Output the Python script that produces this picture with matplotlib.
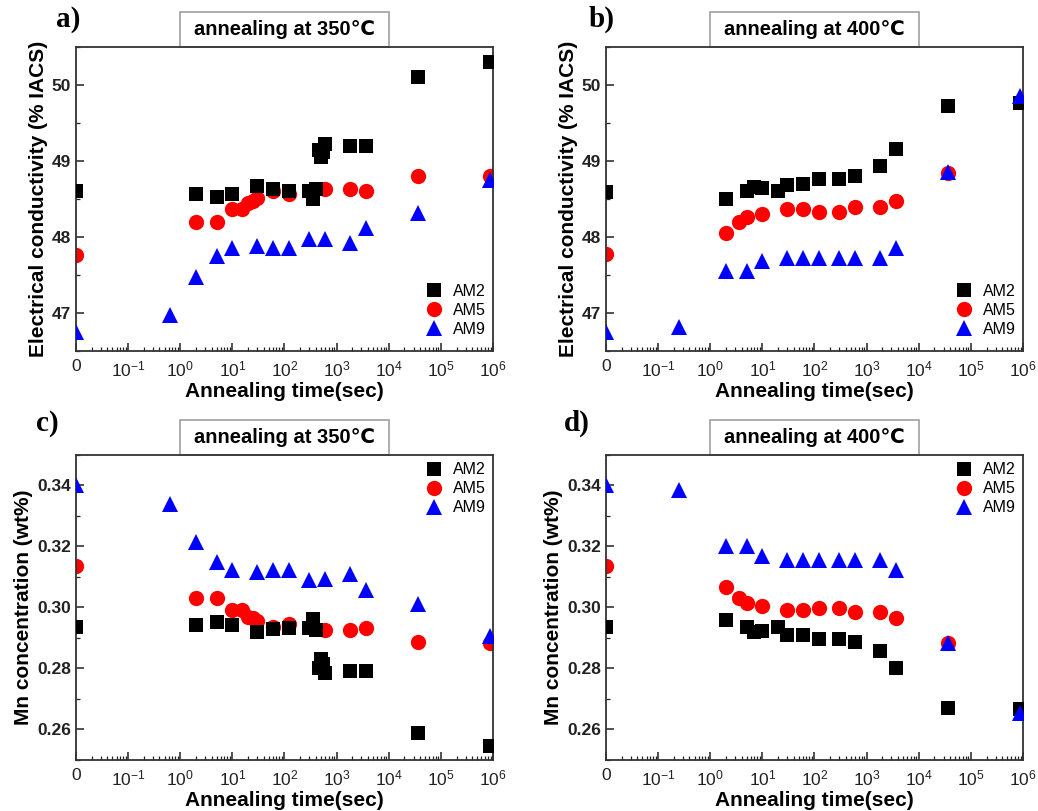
import numpy as np
import matplotlib
matplotlib.use('Agg')
import matplotlib.pyplot as plt
import matplotlib.ticker as mticker
from matplotlib.patches import Rectangle

plt.rcParams['font.family'] = ['Liberation Sans', 'DejaVu Sans']
plt.rcParams['mathtext.fontset'] = 'custom'
plt.rcParams['mathtext.rm'] = 'Liberation Sans'
plt.rcParams['mathtext.it'] = 'Liberation Sans:italic'
plt.rcParams['mathtext.bf'] = 'Liberation Sans:bold'

# annealing times (sec), t = 0 is the as-received state
t350_am2 = [0, 2, 5, 10, 30, 60, 120, 300, 360, 400, 450, 500, 550, 600, 1800, 3600, 36000, 864000]
t350_am5 = [0, 2, 5, 10, 15, 20, 25, 30, 60, 120, 600, 1800, 3600, 36000, 864000]
t350_am9 = [0, 0.65, 2, 5, 10, 30, 60, 120, 300, 600, 1800, 3600, 36000, 864000]

t400_am2 = [0, 2, 5, 7, 10, 20, 30, 60, 120, 300, 600, 1800, 3600, 36000, 864000]
t400_am5 = [0, 2, 3.5, 5, 10, 30, 60, 120, 300, 600, 1800, 3600, 36000]
t400_am9 = [0, 0.25, 2, 5, 10, 30, 60, 120, 300, 600, 1800, 3600, 36000, 864000]

# electrical conductivity (% IACS)
ec350_am2 = [48.60, 48.57, 48.53, 48.57, 48.67, 48.63, 48.60, 48.60, 48.50, 48.63,
             49.15, 49.05, 49.12, 49.22, 49.20, 49.20, 50.10, 50.30]
ec350_am5 = [47.76, 48.20, 48.20, 48.37, 48.37, 48.45, 48.47, 48.51, 48.60, 48.57,
             48.63, 48.63, 48.60, 48.80, 48.80]
ec350_am9 = [46.75, 46.97, 47.47, 47.75, 47.85, 47.88, 47.85, 47.85, 47.98, 47.97,
             47.92, 48.12, 48.32, 48.75]

ec400_am2 = [48.59, 48.50, 48.60, 48.66, 48.64, 48.60, 48.69, 48.70, 48.76, 48.76,
             48.80, 48.93, 49.16, 49.73, 49.76]
ec400_am5 = [47.77, 48.05, 48.20, 48.26, 48.30, 48.37, 48.37, 48.33, 48.33, 48.40,
             48.40, 48.47, 48.84]
ec400_am9 = [46.75, 46.81, 47.55, 47.55, 47.68, 47.72, 47.72, 47.72, 47.72, 47.72,
             47.72, 47.86, 48.86, 49.86]

# Mn concentration in solid solution (wt%)
mn350_am2 = [0.2935, 0.2943, 0.2951, 0.2943, 0.2920, 0.2928, 0.2934, 0.2934, 0.2962, 0.2927,
             0.2800, 0.2830, 0.2815, 0.2785, 0.2793, 0.2793, 0.2589, 0.2545]
mn350_am5 = [0.3137, 0.3031, 0.3031, 0.2992, 0.2992, 0.2970, 0.2965, 0.2957, 0.2935, 0.2946,
             0.2927, 0.2927, 0.2934, 0.2888, 0.2885]
mn350_am9 = [0.3400, 0.3340, 0.3214, 0.3148, 0.3122, 0.3115, 0.3124, 0.3124, 0.3091, 0.3093,
             0.3110, 0.3058, 0.3011, 0.2907]

mn400_am2 = [0.2935, 0.2959, 0.2935, 0.2921, 0.2924, 0.2935, 0.2910, 0.2910, 0.2896, 0.2896,
             0.2888, 0.2857, 0.2803, 0.2672, 0.2667]
mn400_am5 = [0.3137, 0.3067, 0.3031, 0.3016, 0.3006, 0.2992, 0.2992, 0.2997, 0.2999, 0.2984,
             0.2984, 0.2967, 0.2883]
mn400_am9 = [0.3400, 0.3384, 0.3200, 0.3200, 0.3168, 0.3157, 0.3157, 0.3157, 0.3157, 0.3157,
             0.3157, 0.3124, 0.2883, 0.2653]

xtick_labels = ['0', '$10^{-1}$', '$10^{0}$', '$10^{1}$', '$10^{2}$',
                '$10^{3}$', '$10^{4}$', '$10^{5}$', '$10^{6}$']

ZERO_POS = 1e-2  # t = 0 sits at the left end of the log axis


def to_axis(t):
    t = np.asarray(t, dtype=float)
    return np.where(t > 0, t, ZERO_POS)


def style_axes(ax, ylim, ymajor, yminor, yfmt):
    ax.set_xscale('log')
    ax.set_xlim(ZERO_POS, 1e6)
    ax.set_ylim(*ylim)
    ax.xaxis.set_major_locator(mticker.FixedLocator([10.0 ** k for k in range(-2, 7)]))
    ax.xaxis.set_minor_locator(mticker.LogLocator(base=10, subs=np.arange(2, 10), numticks=20))
    ax.xaxis.set_minor_formatter(mticker.NullFormatter())
    ax.set_xticklabels(xtick_labels)
    ax.yaxis.set_major_locator(mticker.MultipleLocator(ymajor))
    ax.yaxis.set_minor_locator(mticker.MultipleLocator(yminor))
    ax.yaxis.set_major_formatter(mticker.FormatStrFormatter(yfmt))
    ax.tick_params(which='both', direction='in', top=False, right=False, colors='#222222')
    ax.tick_params(which='major', length=6, width=1.1)
    ax.tick_params(which='minor', length=3, width=0.9)
    ax.tick_params(axis='x', labelsize=12.5, pad=6)
    ax.tick_params(axis='y', labelsize=12.5)
    for lab in ax.get_yticklabels():
        lab.set_fontweight('bold')
    for sp in ax.spines.values():
        sp.set_linewidth(1.3)
        sp.set_color('#333333')
    ax.set_xlabel('Annealing time(sec)', fontsize=15, fontweight='bold', labelpad=2)


def title_box(ax, text):
    ax.add_patch(Rectangle((0.25, 1.0), 0.5, 0.115, transform=ax.transAxes,
                           facecolor='white', edgecolor='#a0a0a0', lw=1.2, clip_on=False))
    ax.text(0.5, 1.058, text, transform=ax.transAxes, ha='center', va='center',
            fontsize=14.5, fontweight='bold')


def draw_series(ax, series, legend_loc, anchor):
    kw = dict(linestyle='none', markeredgewidth=0, clip_on=True)
    (t2, y2), (t5, y5), (t9, y9) = series
    ax.plot(to_axis(t2), y2, 's', color='black', ms=10, label='AM2', zorder=3, **kw)
    ax.plot(to_axis(t5), y5, 'o', color='#ff0000', ms=11, label='AM5', zorder=2, **kw)
    ax.plot(to_axis(t9), y9, '^', color='#0000ff', ms=12, label='AM9', zorder=4, **kw)
    ax.legend(loc=legend_loc, bbox_to_anchor=anchor, frameon=False, fontsize=11.5,
              handletextpad=0.6, labelspacing=0.25, borderaxespad=0.15, borderpad=0.3,
              handlelength=1.2)


fig = plt.figure(figsize=(10.38, 8.11), dpi=100)
ax_a = fig.add_axes([0.0732, 0.5672, 0.4017, 0.3748])
ax_b = fig.add_axes([0.5838, 0.5672, 0.4017, 0.3748])
ax_c = fig.add_axes([0.0732, 0.0629, 0.4017, 0.3761])
ax_d = fig.add_axes([0.5838, 0.0629, 0.4017, 0.3761])

draw_series(ax_a, [(t350_am2, ec350_am2), (t350_am5, ec350_am5), (t350_am9, ec350_am9)],
            'lower right', (1.0, 0.023))
draw_series(ax_b, [(t400_am2, ec400_am2), (t400_am5, ec400_am5), (t400_am9, ec400_am9)],
            'lower right', (1.0, 0.023))
draw_series(ax_c, [(t350_am2, mn350_am2), (t350_am5, mn350_am5), (t350_am9, mn350_am9)],
            'upper right', (1.0, 1.0))
draw_series(ax_d, [(t400_am2, mn400_am2), (t400_am5, mn400_am5), (t400_am9, mn400_am9)],
            'upper right', (1.0, 1.0))

for ax in (ax_a, ax_b):
    style_axes(ax, (46.5, 50.5), 1, 0.5, '%d')
    ax.set_ylabel('Electrical conductivity (% IACS)', fontsize=15, fontweight='bold', labelpad=3)
for ax in (ax_c, ax_d):
    style_axes(ax, (0.25, 0.35), 0.02, 0.01, '%.2f')
    ax.set_ylabel('Mn concentration (wt%)', fontsize=15, fontweight='bold', labelpad=3)

title_box(ax_a, 'annealing at 350℃')
title_box(ax_b, 'annealing at 400℃')
title_box(ax_c, 'annealing at 350℃')
title_box(ax_d, 'annealing at 400℃')

for lab, x, y in [('a)', 0.066, 0.976), ('b)', 0.580, 0.976),
                  ('c)', 0.046, 0.478), ('d)', 0.556, 0.478)]:
    fig.text(x, y, lab, family='Liberation Serif', fontweight='bold', fontsize=21,
             ha='center', va='center')

fig.savefig('out.png', dpi=100)
